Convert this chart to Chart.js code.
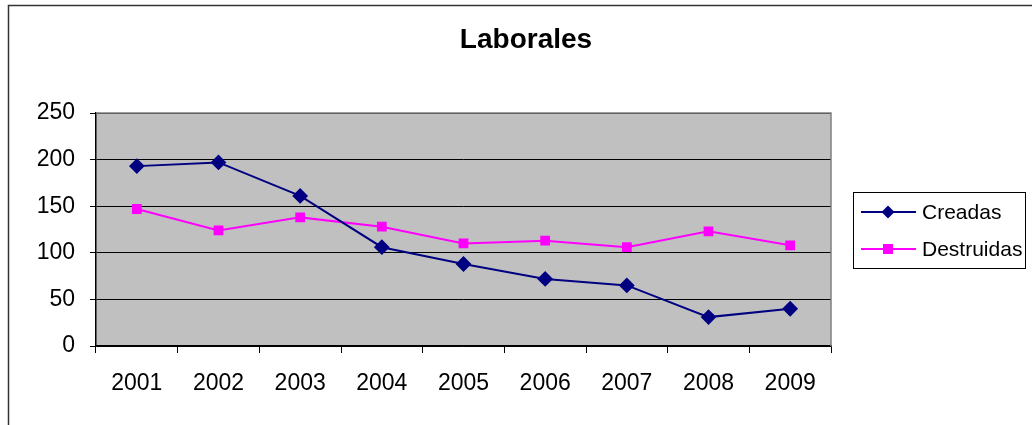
<!DOCTYPE html>
<html>
<head>
<meta charset="utf-8">
<script src="https://cdn.jsdelivr.net/npm/chart.js@4.4.0/dist/chart.umd.min.js"></script>
<style>
  html, body { margin: 0; padding: 0; background: #fff; }
  #wrap { width: 1032px; height: 425px; }
</style>
</head>
<body>
<div id="wrap"><canvas id="miGrafico" width="1032" height="425"></canvas></div>
<script>
const TITULO = 'Laborales';
const ANIOS = ['2001', '2002', '2003', '2004', '2005', '2006', '2007', '2008', '2009'];
const CREADAS = [193, 197, 161, 106, 88, 72, 65, 31, 40];
const DESTRUIDAS = [147, 124, 138, 128, 110, 113, 106, 123, 108];
const TICKS_Y = [0, 50, 100, 150, 200, 250];

const FUENTE = 'Arial, "Liberation Sans", sans-serif';

// marco exterior, fondo gris, titulo y leyenda con caja
const extras = {
  id: 'extras',
  beforeDraw(chart) {
    const ctx = chart.ctx;
    const a = chart.chartArea;
    ctx.save();
    ctx.fillStyle = '#c0c0c0';
    ctx.fillRect(a.left, a.top, a.right - a.left, a.bottom - a.top);
    ctx.strokeStyle = '#333';
    ctx.lineWidth = 1.5;
    ctx.beginPath();
    ctx.moveTo(8.5, 430);
    ctx.lineTo(8.5, 5.5);
    ctx.lineTo(1040, 5.5);
    ctx.stroke();

    ctx.fillStyle = '#000';
    ctx.font = 'bold 28px ' + FUENTE;
    ctx.textAlign = 'center';
    ctx.textBaseline = 'alphabetic';
    ctx.fillText(TITULO, 526, 48);
    ctx.restore();
  },
  afterDraw(chart) {
    const ctx = chart.ctx;
    const a = chart.chartArea;
    ctx.save();
    // borde gris arriba y derecha
    ctx.strokeStyle = '#808080';
    ctx.lineWidth = 1.5;
    ctx.beginPath();
    ctx.moveTo(a.left, a.top);
    ctx.lineTo(a.right, a.top);
    ctx.lineTo(a.right, a.bottom);
    ctx.stroke();

    // leyenda
    ctx.strokeStyle = '#000';
    ctx.lineWidth = 1;
    ctx.strokeRect(853.5, 192.5, 172, 76);
    const ys = [212, 249];
    chart.data.datasets.forEach((ds, i) => {
      const y = ys[i];
      ctx.strokeStyle = ds.borderColor;
      ctx.lineWidth = 2;
      ctx.beginPath();
      ctx.moveTo(861, y);
      ctx.lineTo(916, y);
      ctx.stroke();
      ctx.fillStyle = ds.pointBackgroundColor;
      if (ds.pointStyle === 'rectRot') {
        ctx.beginPath();
        ctx.moveTo(888, y - 6.5);
        ctx.lineTo(894.5, y);
        ctx.lineTo(888, y + 6.5);
        ctx.lineTo(881.5, y);
        ctx.closePath();
        ctx.fill();
      } else {
        ctx.fillRect(883, y - 5, 10, 10);
      }
      ctx.fillStyle = '#000';
      ctx.font = '21px ' + FUENTE;
      ctx.textAlign = 'left';
      ctx.textBaseline = 'middle';
      ctx.fillText(ds.label, 922, y + 1);
    });
    ctx.restore();
  }
};

new Chart(document.getElementById('miGrafico'), {
  type: 'line',
  data: {
    labels: ANIOS,
    datasets: [{
      label: 'Creadas',
      data: CREADAS,
      borderColor: '#000080',
      backgroundColor: '#000080',
      pointBackgroundColor: '#000080',
      pointBorderColor: '#000080',
      pointStyle: 'rectRot',
      pointRadius: 6.5,
      borderWidth: 2,
      tension: 0
    }, {
      label: 'Destruidas',
      data: DESTRUIDAS,
      borderColor: '#ff00ff',
      backgroundColor: '#ff00ff',
      pointBackgroundColor: '#ff00ff',
      pointBorderColor: '#ff00ff',
      pointStyle: 'rect',
      pointRadius: 5.5,
      borderWidth: 2,
      tension: 0
    }]
  },
  options: {
    responsive: false,
    animation: false,
    layout: { padding: { left: 0, right: 201, top: 113, bottom: 0 } },
    plugins: {
      legend: { display: false },
      tooltip: { enabled: false },
      title: { display: false }
    },
    scales: {
      x: {
        offset: true,
        afterFit(s) { s.height = 79; },
        border: { display: true, color: '#000', width: 1.5 },
        grid: {
          offset: true,
          drawOnChartArea: false,
          drawTicks: true,
          tickLength: 7,
          color: '#000',
          lineWidth: 1
        },
        ticks: {
          color: '#000',
          font: { family: FUENTE, size: 23 },
          padding: 17,
          maxRotation: 0
        }
      },
      y: {
        min: 0,
        max: 250,
        afterFit(s) { s.width = 96; },
        afterBuildTicks(s) { s.ticks = TICKS_Y.map(v => ({ value: v })); },
        border: { display: true, color: '#000', width: 1.5 },
        grid: {
          color: '#000',
          lineWidth: 1,
          tickLength: 6
        },
        ticks: {
          color: '#000',
          font: { family: FUENTE, size: 23 },
          padding: 15
        }
      }
    }
  },
  plugins: [extras]
});
</script>
</body>
</html>
